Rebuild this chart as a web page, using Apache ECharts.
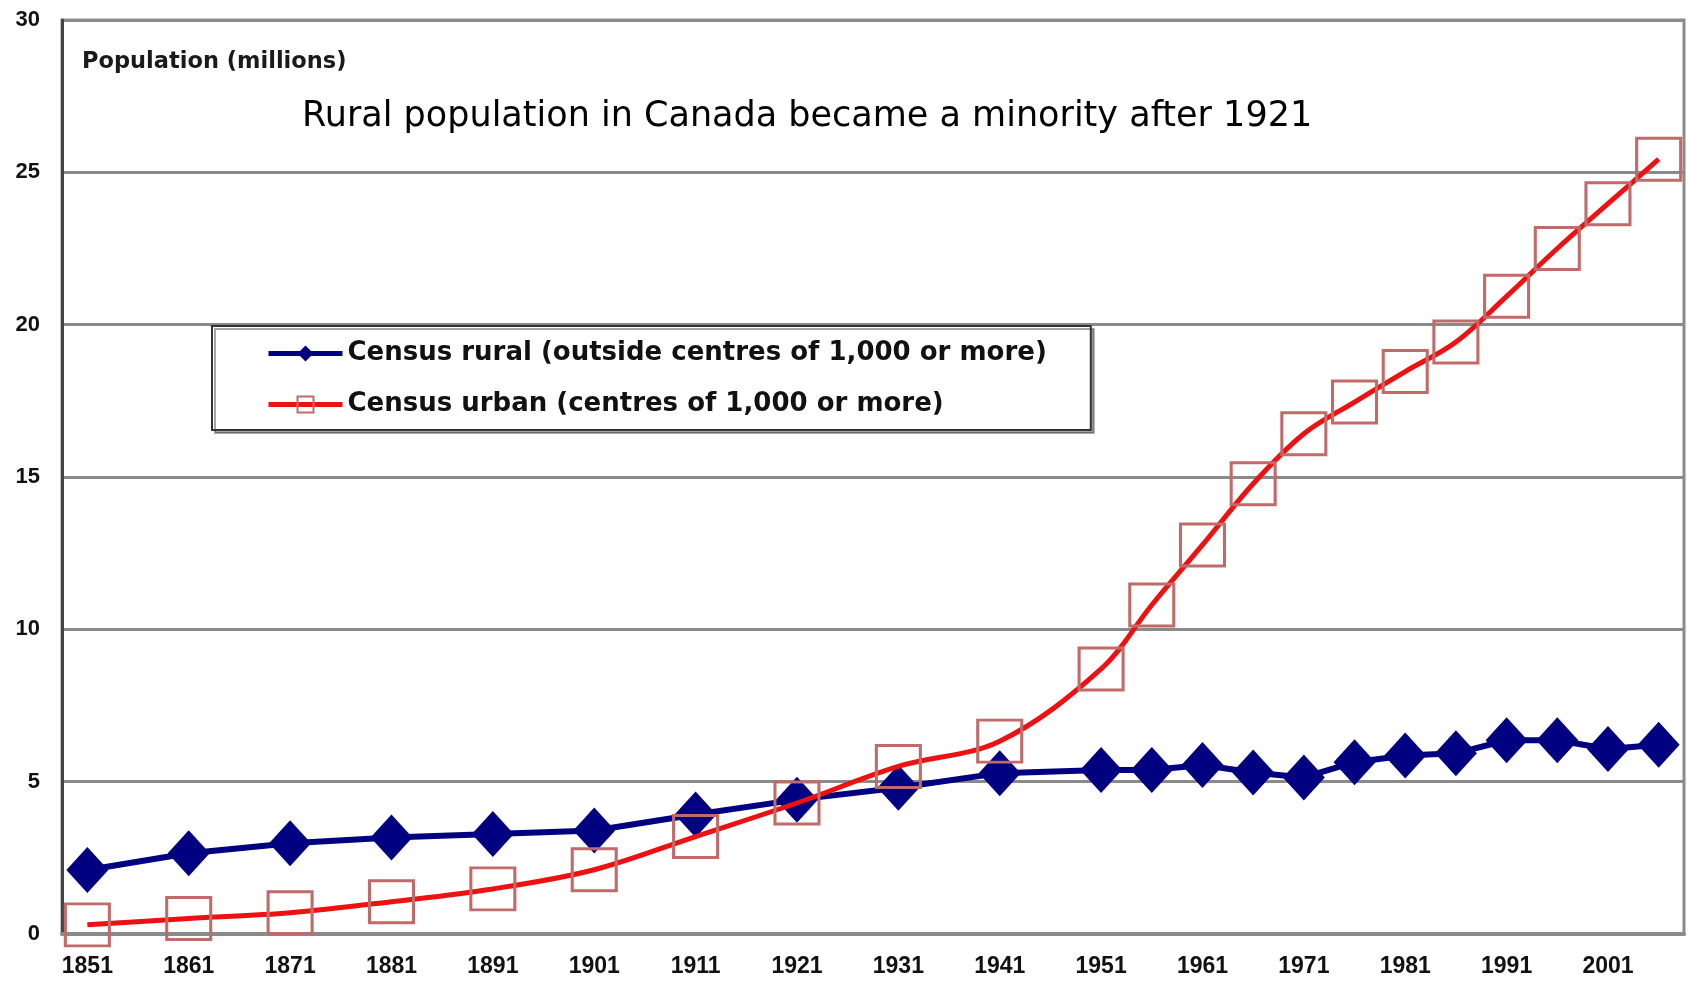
<!DOCTYPE html>
<html>
<head>
<meta charset="utf-8">
<title>Rural and urban population of Canada</title>
<script src="https://cdn.jsdelivr.net/npm/echarts@6/dist/echarts.min.js"></script>
<style>
  html, body { margin: 0; padding: 0; background: #fff; }
  #chart { width: 1688px; height: 983px; }
</style>
</head>
<body>
<div id="chart"></div>
<script>
// Census years on a 5-year category axis; before 1951 only decennial counts exist.
const years = ['1851','1856','1861','1866','1871','1876','1881','1886','1891','1896',
               '1901','1906','1911','1916','1921','1926','1931','1936','1941','1946',
               '1951','1956','1961','1966','1971','1976','1981','1986','1991','1996',
               '2001','2006'];

// Population in millions
const rural = [2.10, null, 2.65, null, 2.98, null, 3.17, null, 3.28, null,
               3.40, null, 3.92, null, 4.41, null, 4.80, null, 5.28, null,
               5.38, 5.38, 5.55, 5.30, 5.14, 5.64, 5.86, 5.93, 6.36, 6.36,
               6.07, 6.21];
const urban = [0.30, null, 0.51, null, 0.70, null, 1.06, null, 1.48, null,
               2.11, null, 3.20, null, 4.30, null, 5.50, null, 6.33, null,
               8.70, 10.80, 12.77, 14.78, 16.42, 17.46, 18.46, 19.43, 20.93, 22.50,
               23.97, 25.43];

const ruralName = 'Census rural (outside centres of 1,000 or more)';
const urbanName = 'Census urban (centres of 1,000 or more)';
const chartTitle = 'Rural population in Canada became a minority after 1921';
const axisTitle = 'Population (millions)';

const chart = echarts.init(document.getElementById('chart'), null, { renderer: 'canvas' });

chart.setOption({
  animation: false,
  backgroundColor: '#ffffff',
  title: [
    {
      text: chartTitle,
      left: 302, top: 99, padding: 0,
      textStyle: { fontFamily: 'DejaVu Sans', fontSize: 35, fontWeight: 'normal', color: '#000' }
    },
    {
      text: axisTitle,
      left: 82, top: 51, padding: 0,
      textStyle: { fontFamily: 'DejaVu Sans', fontSize: 22.5, fontWeight: 'bold', color: '#1a1a1a' }
    }
  ],
  legend: {
    orient: 'vertical',
    left: 212, top: 326,
    itemWidth: 74, itemHeight: 20, itemGap: 20,
    padding: [12, 44, 10, 54],
    backgroundColor: '#ffffff',
    borderColor: '#333333', borderWidth: 2,
    shadowColor: 'rgba(0,0,0,0.35)', shadowOffsetX: 3, shadowOffsetY: 3, shadowBlur: 0,
    textStyle: { fontFamily: 'DejaVu Sans', fontWeight: 'bold', fontSize: 26, lineHeight: 31, color: '#111' },
    data: [
      { name: ruralName, lineStyle: { width: 5 } },
      { name: urbanName, lineStyle: { width: 5 } }
    ]
  },
  grid: {
    left: 62, right: 4, top: 20, bottom: 49,
    show: true, borderColor: '#8a8a8a', borderWidth: 3
  },
  xAxis: {
    type: 'category',
    data: years,
    boundaryGap: true,
    axisLine: { show: true, lineStyle: { color: '#8a8a8a', width: 4 } },
    axisTick: { show: false },
    axisLabel: {
      interval: 1, margin: 21,
      fontFamily: 'Liberation Sans', fontWeight: 'bold', fontSize: 23, color: '#111'
    },
    splitLine: { show: false }
  },
  yAxis: {
    type: 'value',
    min: 0, max: 30, interval: 5,
    axisLine: { show: true, lineStyle: { color: '#444', width: 3 } },
    axisTick: { show: false },
    axisLabel: {
      margin: 22,
      fontFamily: 'Liberation Sans', fontWeight: 'bold', fontSize: 22, color: '#111'
    },
    splitLine: { show: true, lineStyle: { color: '#8a8a8a', width: 3 } }
  },
  series: [
    {
      name: ruralName,
      type: 'line',
      data: rural,
      connectNulls: true,
      showAllSymbol: true,
      symbol: 'diamond',
      symbolSize: [42, 46],
      lineStyle: { color: '#000080', width: 6 },
      itemStyle: { color: '#000080' },
      z: 2
    },
    {
      name: urbanName,
      type: 'line',
      data: urban,
      connectNulls: true,
      showAllSymbol: true,
      smooth: 0.35,
      symbol: 'rect',
      symbolSize: [44, 42],
      lineStyle: { color: '#ee1111', width: 5 },
      itemStyle: { color: 'rgba(255,255,255,0)', borderColor: '#c06a6a', borderWidth: 3 },
      z: 3
    }
  ]
});
</script>
</body>
</html>
